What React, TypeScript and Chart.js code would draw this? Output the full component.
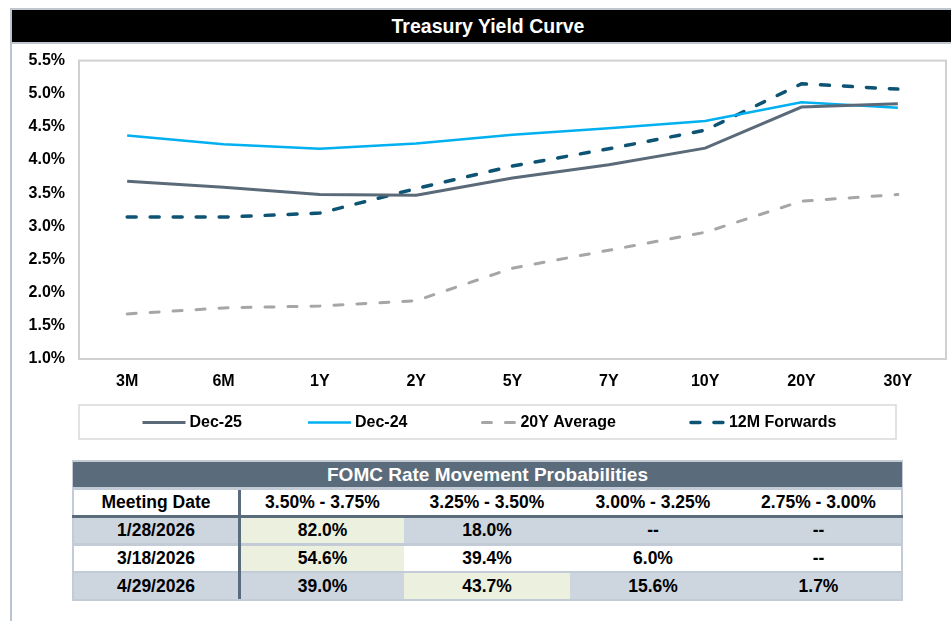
import React, { useEffect, useRef } from "react";
import { Chart, registerables } from "chart.js";

Chart.register(...registerables);

const FONT = '"Liberation Sans", Arial, Helvetica, sans-serif';

// ---- Chart data ----
const tenors = ["3M", "6M", "1Y", "2Y", "5Y", "7Y", "10Y", "20Y", "30Y"];
const dec25 = [3.68, 3.59, 3.48, 3.47, 3.73, 3.93, 4.18, 4.8, 4.85];
const dec24 = [4.37, 4.24, 4.17, 4.25, 4.38, 4.48, 4.59, 4.87, 4.79];
const avg20y = [1.68, 1.77, 1.8, 1.88, 2.37, 2.64, 2.91, 3.38, 3.48];
const fwd12m = [3.14, 3.14, 3.2, 3.57, 3.91, 4.17, 4.45, 5.15, 5.07];
const yMin = 1.0;
const yMax = 5.5;
const yStep = 0.5;

// ---- Table data ----
const tableTitle = "FOMC Rate Movement Probabilities";
const firstColHeader = "Meeting Date";
const meetingDates = ["1/28/2026", "3/18/2026", "4/29/2026"];
const rateRanges = ["3.50% - 3.75%", "3.25% - 3.50%", "3.00% - 3.25%", "2.75% - 3.00%"];
const probJan = [82.0, 18.0, null, null];
const probMar = [54.6, 39.4, 6.0, null];
const probApr = [39.0, 43.7, 15.6, 1.7];
const probRows: (number | null)[][] = [probJan, probMar, probApr];

const C_DEC25 = "#5b6a79";
const C_DEC24 = "#00b0f0";
const C_AVG = "#a6a6a6";
const C_FWD = "#0d5373";

const frameLegendPlugin = {
  id: "frameLegend",
  beforeDatasetsDraw(chart: any) {
    const { ctx, chartArea } = chart;
    ctx.save();
    ctx.strokeStyle = "#d0d0d0";
    ctx.lineWidth = 2;
    ctx.strokeRect(chartArea.left, chartArea.top, chartArea.right - chartArea.left, chartArea.bottom - chartArea.top);
    ctx.restore();
  },
  afterDraw(chart: any) {
    const { ctx, chartArea } = chart;
    const left = chartArea.left;
    const right = chartArea.right - 50;
    const top = chartArea.bottom + 46;
    const h = 34;
    ctx.save();
    ctx.strokeStyle = "#d9d9d9";
    ctx.lineWidth = 1.5;
    ctx.strokeRect(left, top, right - left, h);
    ctx.font = `bold 16px ${FONT}`;
    ctx.textBaseline = "middle";
    ctx.textAlign = "left";
    const sw = 43;
    const tg = 4;
    const gap = 66;
    const items = chart.data.datasets.map((ds: any) => ({ ds, w: ctx.measureText(ds.label).width }));
    const total = items.reduce((s: number, it: any) => s + sw + tg + it.w, 0) + gap * (items.length - 1);
    let x = (left + right) / 2 - total / 2 + 2;
    const cy = top + h / 2 + 0.5;
    items.forEach(({ ds, w }: any) => {
      ctx.beginPath();
      ctx.strokeStyle = ds.borderColor;
      ctx.lineWidth = ds.borderWidth;
      const dashed = ds.borderDash && ds.borderDash.length > 0;
      ctx.setLineDash(dashed ? ds.borderDash : []);
      ctx.lineCap = dashed ? "round" : "butt";
      ctx.moveTo(dashed ? x + 9 : x, cy);
      ctx.lineTo(x + sw, cy);
      ctx.stroke();
      ctx.setLineDash([]);
      ctx.fillStyle = "#000";
      ctx.fillText(ds.label, x + sw + tg, cy);
      x += sw + tg + w + gap;
    });
    ctx.restore();
  },
};

function YieldChart() {
  const ref = useRef<HTMLCanvasElement | null>(null);
  useEffect(() => {
    if (!ref.current) return;
    const chart = new Chart(ref.current, {
      type: "line",
      data: {
        labels: tenors,
        datasets: [
          { label: "Dec-25", data: dec25, borderColor: C_DEC25, backgroundColor: C_DEC25, borderWidth: 3, pointRadius: 0, tension: 0, fill: false },
          { label: "Dec-24", data: dec24, borderColor: C_DEC24, backgroundColor: C_DEC24, borderWidth: 2.5, pointRadius: 0, tension: 0, fill: false },
          { label: "20Y Average", data: avg20y, borderColor: C_AVG, backgroundColor: C_AVG, borderWidth: 3, borderDash: [9, 14], borderCapStyle: "round", pointRadius: 0, tension: 0, fill: false },
          { label: "12M Forwards", data: fwd12m, borderColor: C_FWD, backgroundColor: C_FWD, borderWidth: 3.5, borderDash: [9, 14], borderCapStyle: "round", pointRadius: 0, tension: 0, fill: false },
        ],
      } as any,
      options: {
        animation: false,
        responsive: false,
        maintainAspectRatio: false,
        devicePixelRatio: 1,
        layout: { padding: { left: 0, right: 5, top: 8, bottom: 66 } },
        plugins: { legend: { display: false }, tooltip: { enabled: false }, title: { display: false } },
        scales: {
          x: {
            offset: true,
            grid: { display: false, drawTicks: false },
            border: { display: false },
            ticks: { color: "#000", font: { family: FONT, size: 16, weight: "bold" }, padding: 13, maxRotation: 0 },
            afterFit: (s: any) => { s.height = 30; },
          },
          y: {
            min: yMin,
            max: yMax,
            grid: { display: false, drawTicks: false },
            border: { display: false },
            ticks: {
              stepSize: yStep,
              color: "#000",
              font: { family: FONT, size: 16, weight: "bold" },
              padding: 14,
              callback: (v: any) => Number(v).toFixed(1) + "%",
            },
            afterFit: (s: any) => { s.width = 67; },
          },
        },
      } as any,
      plugins: [frameLegendPlugin],
    });
    return () => chart.destroy();
  }, []);
  return <canvas ref={ref} width={939} height={418} style={{ position: "absolute", left: 12, top: 37, width: 939, height: 418 }} />;
}

const fmt = (v: number | null) => (v == null ? "--" : v.toFixed(1) + "%");

function RateTable() {
  const colLefts = [74, 241, 404, 570, 736];
  const colRights = [238, 404, 570, 736, 901];
  const rowTops = [518, 546, 573];
  const rowHeights = [25, 25, 26];
  const dark = "#5a6b7b";
  const grayRow = "#cdd5df";
  const green = "#ebf1de";
  const textStyle: React.CSSProperties = {
    position: "absolute",
    display: "flex",
    alignItems: "center",
    justifyContent: "center",
    fontFamily: FONT,
    fontWeight: "bold",
    fontSize: 17.5,
    color: "#000",
    whiteSpace: "nowrap",
  };
  const cells: React.ReactNode[] = [];
  [firstColHeader, ...rateRanges].forEach((t, c) => {
    cells.push(
      <div key={"h" + c} style={{ ...textStyle, left: colLefts[c], top: 490, width: colRights[c] - colLefts[c], height: 25, background: "#fff" }}>{t}</div>
    );
  });
  probRows.forEach((row, r) => {
    const base = r % 2 === 0 ? grayRow : "#fff";
    const nums = row.map((v) => (v == null ? -1 : v));
    const maxV = Math.max(...nums);
    cells.push(
      <div key={"d" + r} style={{ ...textStyle, left: colLefts[0], top: rowTops[r], width: colRights[0] - colLefts[0], height: rowHeights[r], background: base }}>{meetingDates[r]}</div>
    );
    row.forEach((v, c) => {
      const bg = v != null && v === maxV ? green : base;
      cells.push(
        <div key={"c" + r + "-" + c} style={{ ...textStyle, left: colLefts[c + 1], top: rowTops[r], width: colRights[c + 1] - colLefts[c + 1], height: rowHeights[r], background: bg }}>{fmt(v)}</div>
      );
    });
  });
  return (
    <>
      <div style={{ position: "absolute", left: 72, top: 460, width: 831, height: 141, background: "#c3ccd6" }} />
      <div style={{ ...textStyle, left: 73, top: 462, width: 829, height: 25, background: dark, color: "#fff", fontSize: 19 }}>{tableTitle}</div>
      {cells}
      <div style={{ position: "absolute", left: 72, top: 515, width: 831, height: 3, background: dark }} />
      <div style={{ position: "absolute", left: 238, top: 490, width: 3, height: 109, background: dark }} />
    </>
  );
}

export default function App() {
  return (
    <div style={{ position: "absolute", left: 0, top: 0, width: 951, height: 621, background: "#fff", overflow: "hidden", fontFamily: FONT }}>
      <div style={{ position: "absolute", left: 10, top: 8, width: 2, height: 613, background: "#b9c4cf" }} />
      <div style={{ position: "absolute", left: 12, top: 8, width: 939, height: 2, background: "#bfc6ce" }} />
      <div style={{ position: "absolute", left: 12, top: 10, width: 939, height: 32, background: "#000" }} />
      <div style={{ position: "absolute", left: 0, top: 10, width: 976, height: 32, lineHeight: "32px", textAlign: "center", color: "#fff", fontWeight: "bold", fontSize: 19.5, fontFamily: FONT }}>Treasury Yield Curve</div>
      <div style={{ position: "absolute", left: 12, top: 42, width: 939, height: 2, background: "#bfc6ce" }} />
      <YieldChart />
      <RateTable />
    </div>
  );
}
